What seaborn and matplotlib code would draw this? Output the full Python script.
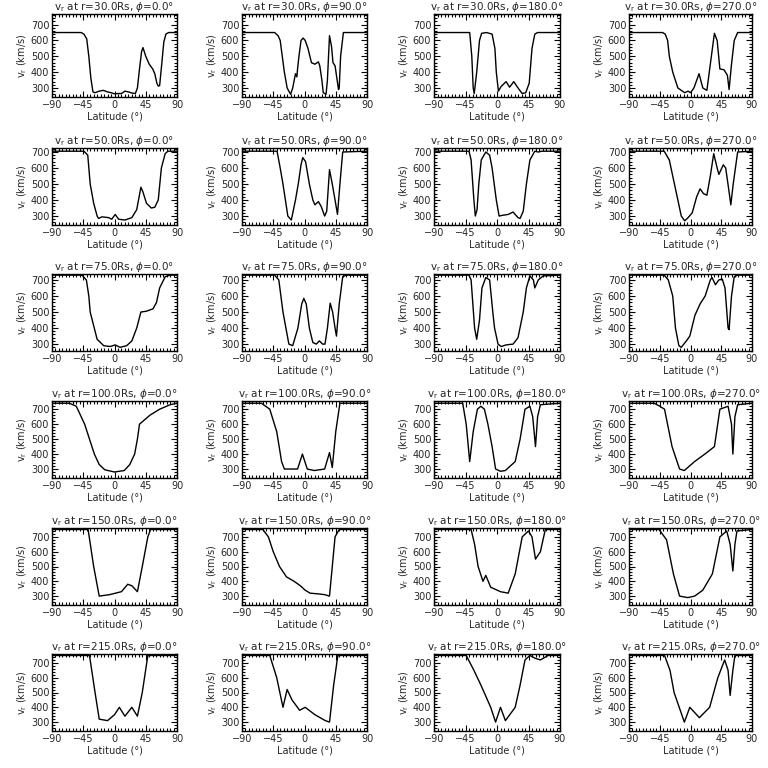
import matplotlib
matplotlib.use("Agg")
import matplotlib.pyplot as plt
import seaborn as sns
import pandas as pd
from matplotlib.ticker import MultipleLocator

# ---------------- data (latitude knots in deg, v_r in km/s) ----------------
radii = [30.0, 50.0, 75.0, 100.0, 150.0, 215.0]
phis = [0.0, 90.0, 180.0, 270.0]

lat_30_0 = [-90, -48, -44, -40, -37, -34, -31, -28, -22, -16, -10, -5, 0, 5, 10, 15, 20, 25, 30, 33, 36, 39, 41, 45, 50, 55, 58, 61, 63, 65, 68, 71, 74, 78, 90]
v_30_0 = [650, 650, 640, 610, 500, 360, 275, 270, 280, 285, 275, 270, 263, 265, 265, 280, 275, 268, 265, 300, 420, 530, 555, 500, 450, 420, 390, 330, 312, 315, 450, 590, 640, 650, 650]

lat_30_90 = [-90, -43, -38, -35, -32, -29, -25, -20, -17, -13, -11, -10, -8, -5, -2, 1, 5, 10, 15, 20, 22, 25, 27, 31, 33, 36, 39, 41, 44, 49, 50, 52, 56, 90]
v_30_90 = [650, 650, 630, 600, 500, 400, 300, 260, 300, 390, 370, 420, 500, 600, 615, 600, 550, 460, 450, 465, 440, 350, 270, 260, 350, 630, 560, 460, 440, 290, 300, 500, 650, 650]

lat_30_180 = [-90, -39, -36, -34, -32.5, -29, -25, -22, -15, -7, -3, -1, 2, 6, 13, 18, 24, 30, 36, 41, 46, 50, 54, 58, 90]
v_30_180 = [650, 650, 500, 300, 265, 400, 600, 645, 650, 640, 550, 400, 280, 310, 340, 305, 340, 300, 265, 270, 330, 550, 640, 650, 650]

lat_30_270 = [-90, -41, -37, -33.5, -31, -26, -18.5, -8.5, -3.5, 0, 5, 12.5, 18, 24, 29, 35, 39, 43, 49, 54, 56.5, 60, 64, 69, 90]
v_30_270 = [650, 650, 640, 600, 500, 400, 300, 270, 280, 270, 300, 390, 300, 285, 450, 645, 600, 420, 415, 380, 290, 450, 600, 650, 650]

lat_50_0 = [-90, -44, -38.5, -35, -30, -25, -23, -18, -8.5, -4, 1, 6, 15, 25, 32, 38, 41, 46, 53, 58, 63, 67.5, 73, 77, 90]
v_50_0 = [705, 705, 680, 500, 380, 300, 285, 295, 290, 280, 310, 280, 275, 290, 340, 480, 450, 380, 350, 355, 400, 600, 690, 705, 705]

lat_50_90 = [-90, -39.5, -35, -31, -24, -19, -13, -9, -5, -2.5, 1.5, 7, 12, 15, 20, 24, 29, 32, 36, 40, 44, 47.5, 51, 55, 90]
v_50_90 = [705, 705, 600, 500, 300, 275, 400, 500, 620, 665, 640, 500, 400, 370, 390, 360, 300, 330, 590, 500, 400, 310, 500, 700, 705]

lat_50_180 = [-90, -40, -37, -33, -31, -28.5, -26, -22.5, -16, -10.5, -7, -1, 3, 8.5, 16, 23, 30, 33, 37.5, 42, 47, 54, 59, 64, 90]
v_50_180 = [705, 705, 650, 400, 300, 340, 500, 650, 700, 680, 600, 400, 300, 305, 310, 325, 290, 285, 330, 500, 650, 705, 700, 705, 705]

lat_50_270 = [-90, -38.5, -31, -23.5, -18.5, -13.5, -8.5, -3.5, 2.5, 9, 14, 19, 24, 29, 34, 39, 41.5, 48, 51.5, 56.5, 59, 62.5, 69, 90]
v_50_270 = [705, 705, 650, 500, 400, 300, 270, 290, 320, 420, 470, 440, 430, 550, 690, 600, 560, 620, 600, 450, 370, 500, 700, 705]

lat_75_0 = [-90, -47, -40.5, -37, -35, -25, -15.5, -6, 1, 8, 17.5, 25, 32, 38, 46, 55.5, 60.5, 65, 73, 80, 90]
v_75_0 = [730, 730, 700, 600, 500, 330, 290, 285, 295, 280, 290, 320, 400, 500, 505, 520, 560, 650, 720, 730, 730]

lat_75_90 = [-90, -43, -37, -31, -22.5, -17, -9.5, -4, -1, 2.5, 7, 12, 17, 21.5, 26, 29.5, 33, 37, 40.5, 44, 46, 50, 55, 60, 90]
v_75_90 = [730, 730, 700, 500, 300, 290, 400, 550, 585, 550, 400, 310, 300, 320, 300, 300, 400, 555, 500, 400, 350, 550, 720, 730, 730]

lat_75_180 = [-90, -40, -37, -32, -29, -25, -21.5, -16, -10.5, -6, -3.5, 1.5, 6, 13, 23, 30, 37.5, 42, 47, 52, 54, 59, 66, 90]
v_75_180 = [730, 730, 700, 400, 330, 450, 650, 715, 700, 500, 400, 300, 285, 295, 300, 340, 500, 650, 725, 700, 650, 700, 725, 730]

lat_75_270 = [-90, -38.5, -32.5, -26, -22, -17, -13.5, -6, -1, 6.5, 14, 21.5, 29, 31.5, 36.5, 41.5, 46.5, 50.5, 55, 56.5, 60, 64, 69, 90]
v_75_270 = [730, 730, 700, 600, 400, 290, 280, 320, 350, 480, 550, 600, 700, 715, 670, 700, 705, 650, 400, 390, 600, 720, 730, 730]

lat_100_0 = [-90, -65, -55, -43, -29, -22, -14, 0, 14, 22, 29, 33, 36, 51, 65, 80, 90]
v_100_0 = [740, 740, 720, 600, 400, 330, 295, 280, 290, 330, 400, 500, 600, 660, 700, 730, 740]

lat_100_90 = [-90, -62, -50, -40, -33, -29, -20, -10, -3, 4, 14, 29, 36, 40, 45, 51, 90]
v_100_90 = [740, 740, 700, 550, 350, 300, 300, 300, 400, 300, 290, 300, 410, 310, 550, 740, 740]

lat_100_180 = [-90, -49, -44, -39, -34, -28, -23, -18, -13, -7, -2, 5, 12, 26, 33, 40, 47, 51, 55, 58, 62, 90]
v_100_180 = [740, 740, 600, 350, 550, 700, 720, 700, 600, 450, 300, 285, 290, 350, 500, 700, 720, 650, 450, 650, 730, 740]

lat_100_270 = [-90, -53, -45, -38, -27, -16, -9, 6, 21, 35, 43, 55, 60, 62, 65, 69, 90]
v_100_270 = [740, 740, 720, 700, 450, 300, 290, 350, 400, 450, 700, 720, 600, 400, 650, 730, 740]

lat_150_0 = [-90, -38, -30, -22, -7, 10, 19, 25, 33, 40, 48, 52, 90]
v_150_0 = [750, 750, 500, 300, 310, 330, 380, 370, 330, 500, 700, 750, 750]

lat_150_90 = [-90, -60, -52, -45, -36, -26, -15, -6, 1, 8, 20, 29, 36, 40, 44, 50, 90]
v_150_90 = [750, 750, 700, 600, 500, 430, 400, 370, 340, 320, 315, 310, 300, 500, 700, 750, 750]

lat_150_180 = [-90, -37, -32, -27, -20, -16, -9, 5, 16, 26, 36, 45, 50, 55, 62, 69, 90]
v_150_180 = [750, 750, 650, 500, 400, 440, 360, 330, 320, 450, 700, 740, 700, 550, 600, 750, 750]

lat_150_270 = [-90, -46, -35, -25, -16, -4, 6, 18, 32, 43, 53, 58, 62, 65, 68, 90]
v_150_270 = [750, 750, 680, 450, 300, 290, 300, 340, 450, 700, 740, 650, 470, 650, 740, 750]

lat_215_0 = [-90, -36, -28, -22, -10, 0, 7, 15, 25, 33, 40, 48, 90]
v_215_0 = [750, 750, 500, 320, 310, 350, 400, 340, 400, 340, 500, 750, 750]

lat_215_90 = [-90, -50, -40, -31, -25, -18, -7, 1, 15, 30, 36, 42, 48, 90]
v_215_90 = [750, 750, 600, 400, 520, 450, 380, 400, 350, 310, 300, 550, 750, 750]

lat_215_180 = [-90, -44, -33, -23, -9, -2, 5, 12, 26, 33, 40, 47, 55, 62, 73, 90]
v_215_180 = [750, 750, 650, 550, 400, 300, 400, 310, 400, 550, 720, 750, 730, 720, 750, 750]

lat_215_270 = [-90, -38, -30, -24, -9, -1, 13, 28, 40, 50, 55, 58, 62, 65, 90]
v_215_270 = [750, 750, 650, 500, 300, 400, 330, 400, 600, 720, 650, 480, 650, 750, 750]

panel_lats = [
    [lat_30_0, lat_30_90, lat_30_180, lat_30_270],
    [lat_50_0, lat_50_90, lat_50_180, lat_50_270],
    [lat_75_0, lat_75_90, lat_75_180, lat_75_270],
    [lat_100_0, lat_100_90, lat_100_180, lat_100_270],
    [lat_150_0, lat_150_90, lat_150_180, lat_150_270],
    [lat_215_0, lat_215_90, lat_215_180, lat_215_270],
]
panel_vs = [
    [v_30_0, v_30_90, v_30_180, v_30_270],
    [v_50_0, v_50_90, v_50_180, v_50_270],
    [v_75_0, v_75_90, v_75_180, v_75_270],
    [v_100_0, v_100_90, v_100_180, v_100_270],
    [v_150_0, v_150_90, v_150_180, v_150_270],
    [v_215_0, v_215_90, v_215_180, v_215_270],
]

row_ylims = [(243, 767), (244, 725), (257, 737), (240, 755), (240, 760), (240, 760)]
xticks = [-90, -45, 0, 45, 90]
yticks = [300, 400, 500, 600, 700]

# ---------------- layout (pixel positions in a 768x768 canvas) ----------------
W = H = 768
col_lr = [(52, 177), (242, 367), (434, 560), (629, 752)]
row_tb = [(14, 97), (148, 225), (274, 351), (401, 478), (528, 605), (654, 731)]

sns.set_theme(style="ticks")
plt.rcParams['font.family'] = ['DejaVu Sans']
plt.rcParams['mathtext.fontset'] = 'dejavusans'

fig = plt.figure(figsize=(W / 100, H / 100), dpi=100)
fig.patch.set_facecolor("white")

for i, r in enumerate(radii):
    for j, phi in enumerate(phis):
        l, rr = col_lr[j]
        t, b = row_tb[i]
        ax = fig.add_axes([l / W, 1 - b / H, (rr - l) / W, (b - t) / H])
        df = pd.DataFrame({"lat": panel_lats[i][j], "v": panel_vs[i][j]})
        sns.lineplot(data=df, x="lat", y="v", ax=ax, color="black", linewidth=1.0,
                     sort=False, estimator=None)
        ax.set_xlim(-90, 90)
        ax.set_ylim(*row_ylims[i])
        ax.set_xticks(xticks)
        ax.set_yticks(yticks)
        ax.xaxis.set_minor_locator(MultipleLocator(5))
        ax.yaxis.set_minor_locator(MultipleLocator(20))
        ax.tick_params(which="both", direction="in", top=True, right=True,
                       labelsize=7, pad=2, color="black", width=0.8)
        ax.tick_params(which="major", length=4)
        ax.tick_params(which="minor", length=2)
        for s in ax.spines.values():
            s.set_visible(True)
            s.set_color("black")
            s.set_linewidth(1.0)
        ax.set_facecolor("white")
        ax.grid(False)
        ax.set_title(r"v$_{\rm r}$ at r=%.1fRs, $\phi$=%.1f°" % (r, phi),
                     fontsize=7.5, pad=1.0)
        ax.set_xlabel("Latitude (°)", fontsize=7, labelpad=1)
        ax.set_ylabel(r"v$_{\rm r}$ (km/s)", fontsize=7, labelpad=1)

fig.savefig("out.png", dpi=100, facecolor="white")
